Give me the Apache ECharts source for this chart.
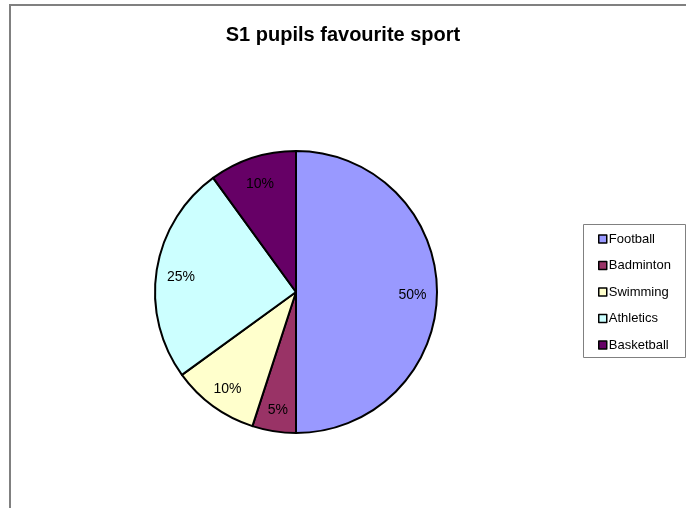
<!DOCTYPE html>
<html>
<head>
<meta charset="utf-8">
<script src="https://cdn.jsdelivr.net/npm/echarts@6/dist/echarts.min.js"></script>
<style>
  html, body { margin: 0; padding: 0; background: #fff; }
  #chart { width: 686px; height: 508px; }
</style>
</head>
<body>
<div id="chart"></div>
<script>
// Survey results: favourite sport of S1 pupils (percent)
const sports = ['Football', 'Badminton', 'Swimming', 'Athletics', 'Basketball'];
const shares = [50, 5, 10, 25, 10];
const sliceColors = ['#9999FF', '#993366', '#FFFFCC', '#CCFFFF', '#660066'];

const FONT = '"Liberation Sans", Arial, sans-serif';

const slices = sports.map((name, i) => ({
  name: name,
  value: shares[i],
  itemStyle: { color: sliceColors[i] }
}));

const chart = echarts.init(document.getElementById('chart'), null, { renderer: 'canvas' });

chart.setOption({
  animation: false,
  backgroundColor: '#ffffff',
  title: {
    text: 'S1 pupils favourite sport',
    left: 'center',
    top: 20,
    textStyle: { fontFamily: FONT, fontSize: 20, fontWeight: 'bold', color: '#000' }
  },
  graphic: [
    {
      type: 'rect',
      shape: { x: 10, y: 5, width: 700, height: 520 },
      style: { fill: 'none', stroke: '#808080', lineWidth: 2 },
      silent: true
    },
    {
      type: 'rect',
      shape: { x: 583.5, y: 224.5, width: 102, height: 133 },
      style: { fill: '#fff', stroke: '#808080', lineWidth: 1 },
      silent: true,
      z: 0
    }
  ],
  legend: {
    orient: 'vertical',
    left: 598,
    top: 231,
    data: sports,
    icon: 'rect',
    itemWidth: 8,
    itemHeight: 8,
    itemGap: 10.5,
    selectedMode: false,
    itemStyle: { borderColor: '#000', borderWidth: 1.5 },
    textStyle: { fontFamily: FONT, fontSize: 13, color: '#000', padding: [0, 0, 0, -3], lineHeight: 16 },
    padding: 0
  },
  series: [
    {
      type: 'pie',
      center: [296, 292],
      radius: [0, 141],
      startAngle: 90,
      clockwise: true,
      avoidLabelOverlap: false,
      silent: true,
      label: { show: false },
      labelLine: { show: false },
      itemStyle: { borderColor: '#000', borderWidth: 2 },
      data: slices
    },
    {
      // transparent ring that carries the percentage labels
      type: 'pie',
      center: [296, 292],
      radius: [86, 141],
      startAngle: 90,
      clockwise: true,
      avoidLabelOverlap: false,
      silent: true,
      legendHoverLink: false,
      itemStyle: { color: 'transparent', borderWidth: 0 },
      label: {
        show: true,
        position: 'inside',
        formatter: '{c}%',
        fontFamily: FONT,
        fontSize: 14,
        color: '#000',
        offset: [0, 3]
      },
      labelLine: { show: false },
      data: sports.map((name, i) => ({ name: name + ' ', value: shares[i] }))
    }
  ]
});
</script>
</body>
</html>
